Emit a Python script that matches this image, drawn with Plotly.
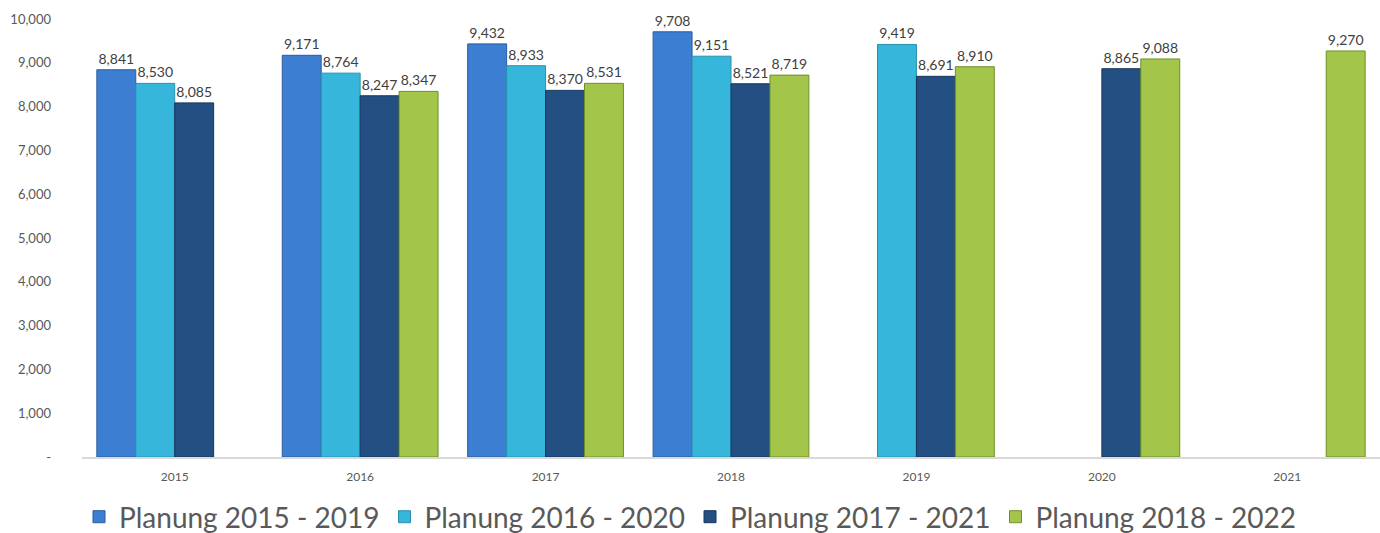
import plotly.graph_objects as go

years = ["2015", "2016", "2017", "2018", "2019", "2020", "2021"]
series_names = ["Planung 2015 - 2019", "Planung 2016 - 2020", "Planung 2017 - 2021", "Planung 2018 - 2022"]
plan_2015 = [8841, 9171, 9432, 9708, None, None, None]
plan_2016 = [8530, 8764, 8933, 9151, 9419, None, None]
plan_2017 = [8085, 8247, 8370, 8521, 8691, 8865, None]
plan_2018 = [None, 8347, 8531, 8719, 8910, 9088, 9270]
colors = ["#3C7ED2", "#37B6DC", "#244F82", "#A3C64A"]
edges = ["#2A5C9E", "#2890AE", "#16365C", "#6F8F2A"]
y_ticks = [0, 1000, 2000, 3000, 4000, 5000, 6000, 7000, 8000, 9000, 10000]
y_tick_text = ["-"] + [f"{v:,}" for v in y_ticks[1:]]

fig = go.Figure()
for name, vals, c, e in zip(series_names, [plan_2015, plan_2016, plan_2017, plan_2018], colors, edges):
    fig.add_trace(go.Bar(
        x=years, y=vals, name=name,
        marker=dict(color=c, line=dict(color=e, width=1)),
        text=[f"{v:,}" if v is not None else "" for v in vals],
        textposition="outside", cliponaxis=False,
        textfont=dict(family="Lato", size=14, color="#404040"),
    ))

fig.update_layout(
    width=1380, height=533,
    margin=dict(l=82, r=0, t=19, b=76, autoexpand=False),
    plot_bgcolor="white", paper_bgcolor="white",
    barmode="group", bargap=0.16, bargroupgap=0,
    font=dict(family="Lato", color="#595959"),
    xaxis=dict(showline=True, linecolor="#D9D9D9", linewidth=2, ticks="",
               tickfont=dict(size=12, color="#595959"), showgrid=False,
               ticklabelstandoff=8),
    yaxis=dict(range=[0, 10000], tickvals=y_ticks, ticktext=y_tick_text,
               showgrid=False, zeroline=False, showline=False,
               tickfont=dict(size=13, color="#595959"), ticklabelstandoff=30),
    legend=dict(orientation="h", xref="container", x=0.5, xanchor="center",
                y=-0.137, yanchor="middle",
                font=dict(size=28, color="#595959"), itemwidth=30),
)

fig.write_html("out.html")
